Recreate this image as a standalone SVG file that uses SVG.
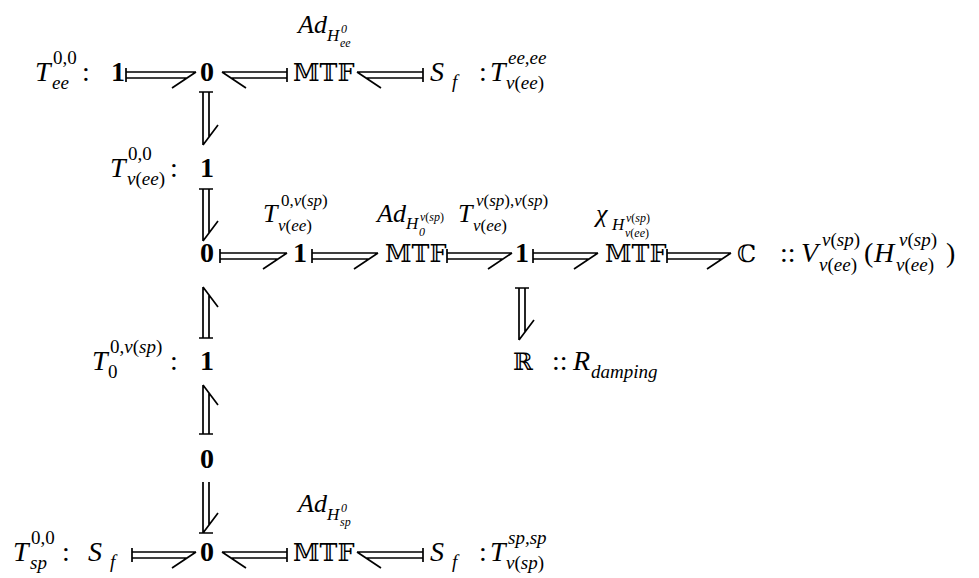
<svg xmlns="http://www.w3.org/2000/svg" width="979" height="578" viewBox="0 0 979 578">
<style>
text{font-family:'Liberation Serif','Times New Roman','Tinos','DejaVu Serif',serif;fill:#000}
.m{font-size:28px;font-style:italic}
.s{font-size:19px;font-style:italic}
.u{font-style:normal}
.c{font-size:28px;font-style:normal}
.b{font-size:28px;font-weight:bold;text-anchor:middle}
.bb{font-family:'DejaVu Serif','DejaVu Sans',serif;font-size:24px}
.l{font-size:26px;font-style:italic}
.ls{font-size:17px;font-style:italic}
.lss{font-size:12px;font-style:italic}
#arrows path{fill:none;stroke:#000;stroke-width:1.7}
</style>
<rect width="979" height="578" fill="#fff"/>
<g font-family="Liberation Serif, serif">

<!-- top row -->
<g id="lbl-top"><text class="m" x="35" y="81">T</text><text class="s u" x="53" y="64">0,0</text><text class="s" x="52" y="89">ee</text><text class="c" x="82" y="81">:</text></g>
<g id="n-top-1"><text class="b" x="118" y="81">1</text></g>
<g id="n-top-0"><text class="b" x="207" y="81">0</text></g>
<g id="n-top-mtf"><text class="bb" x="293" y="81">𝕄𝕋𝔽</text></g>
<g id="n-top-sf"><text class="m" x="430" y="81">S</text><text class="s" x="452" y="88">f</text></g>
<g id="lbl-top-r"><text class="c" x="479" y="81">:</text><text class="m" x="490" y="81">T</text><text class="s" x="508" y="64">ee,ee</text><text class="s" x="506" y="89">v<tspan class="u">(</tspan>ee<tspan class="u">)</tspan></text></g>
<g id="lbl-ad-top"><text class="l" x="298" y="33">Ad</text><text class="ls" x="327" y="41">H</text><text class="lss u" x="341" y="33">0</text><text class="lss" x="340" y="47">ee</text></g>

<!-- second row -->
<g id="lbl-a"><text class="m" x="110" y="177">T</text><text class="s u" x="128" y="160">0,0</text><text class="s" x="127" y="185">v<tspan class="u">(</tspan>ee<tspan class="u">)</tspan></text><text class="c" x="170" y="177">:</text></g>
<g id="n-a-1"><text class="b" x="207" y="177">1</text></g>

<!-- middle row -->
<g id="n-m-0"><text class="b" x="207" y="262">0</text></g>
<g id="n-m-1a"><text class="b" x="300" y="262">1</text></g>
<g id="n-m-mtf1"><text class="bb" x="385" y="262">𝕄𝕋𝔽</text></g>
<g id="n-m-1b"><text class="b" x="522" y="262">1</text></g>
<g id="n-m-mtf2"><text class="bb" x="605" y="262">𝕄𝕋𝔽</text></g>
<g id="n-m-c"><text class="bb" x="737" y="262">ℂ</text></g>
<g id="lbl-m-r"><text class="c" x="780" y="262">::</text><text class="m" x="801" y="262">V</text><text class="s" x="822" y="246">v<tspan class="u">(</tspan>sp<tspan class="u">)</tspan></text><text class="s" x="819" y="271">v<tspan class="u">(</tspan>ee<tspan class="u">)</tspan></text><text class="c" x="864" y="262">(</text><text class="m" x="874" y="262">H</text><text class="s" x="899" y="246">v<tspan class="u">(</tspan>sp<tspan class="u">)</tspan></text><text class="s" x="896" y="271">v<tspan class="u">(</tspan>ee<tspan class="u">)</tspan></text><text class="c" x="946" y="262">)</text></g>
<g id="lbl-m-1"><text class="l" x="263" y="222">T</text><text class="ls" x="281" y="206"><tspan class="u">0,</tspan>v<tspan class="u">(</tspan>sp<tspan class="u">)</tspan></text><text class="ls" x="278" y="231">v<tspan class="u">(</tspan>ee<tspan class="u">)</tspan></text></g>
<g id="lbl-m-2"><text class="l" x="377" y="222">Ad</text><text class="ls" x="406" y="229">H</text><text class="lss" x="420" y="221">v<tspan class="u">(</tspan>sp<tspan class="u">)</tspan></text><text class="lss u" x="419" y="236">0</text></g>
<g id="lbl-m-3"><text class="l" x="458" y="222">T</text><text class="ls" x="476" y="206">v<tspan class="u">(</tspan>sp<tspan class="u">),</tspan>v<tspan class="u">(</tspan>sp<tspan class="u">)</tspan></text><text class="ls" x="473" y="231">v<tspan class="u">(</tspan>ee<tspan class="u">)</tspan></text></g>
<g id="lbl-m-4"><text class="l" x="596" y="222">χ</text><text class="ls" x="612" y="230">H</text><text class="lss" x="626" y="222">v<tspan class="u">(</tspan>sp<tspan class="u">)</tspan></text><text class="lss" x="625" y="237">v<tspan class="u">(</tspan>ee<tspan class="u">)</tspan></text></g>

<!-- fourth row -->
<g id="lbl-b"><text class="m" x="92" y="370">T</text><text class="s" x="110" y="353"><tspan class="u">0,</tspan>v<tspan class="u">(</tspan>sp<tspan class="u">)</tspan></text><text class="s u" x="108" y="378">0</text><text class="c" x="170" y="370">:</text></g>
<g id="n-b-1"><text class="b" x="207" y="370">1</text></g>
<g id="n-b-r"><text class="bb" x="513" y="370">ℝ</text></g>
<g id="lbl-b-r"><text class="c" x="552" y="370">::</text><text class="m" x="573" y="370">R</text><text class="s" x="591" y="378">damping</text></g>

<!-- fifth row -->
<g id="n-c-0"><text class="b" x="207" y="468">0</text></g>

<!-- bottom row -->
<g id="lbl-bot"><text class="m" x="13" y="561">T</text><text class="s u" x="31" y="544">0,0</text><text class="s" x="30" y="569">sp</text><text class="c" x="62" y="561">:</text></g>
<g id="n-bot-sf1"><text class="m" x="88" y="561">S</text><text class="s" x="110" y="568">f</text></g>
<g id="n-bot-0"><text class="b" x="207" y="561">0</text></g>
<g id="n-bot-mtf"><text class="bb" x="293" y="561">𝕄𝕋𝔽</text></g>
<g id="n-bot-sf2"><text class="m" x="430" y="561">S</text><text class="s" x="452" y="568">f</text></g>
<g id="lbl-bot-r"><text class="c" x="479" y="561">:</text><text class="m" x="490" y="561">T</text><text class="s" x="508" y="544">sp,sp</text><text class="s" x="506" y="569">v<tspan class="u">(</tspan>sp<tspan class="u">)</tspan></text></g>
<g id="lbl-ad-bot"><text class="l" x="298" y="512">Ad</text><text class="ls" x="327" y="520">H</text><text class="lss u" x="341" y="512">0</text><text class="lss" x="340" y="526">sp</text></g>
</g>

<!-- double-line maps-to connectors -->
<g id="arrows">
<path d="M126 68V82M126 72H196M126 78H187M196 72L172 88"/>
<path d="M287 68V82M222 72H287M231 78H287M222 72L246 88"/>
<path d="M423 68V82M357 72H423M366 78H423M357 72L381 88"/>
<path d="M199 92H213M203 92V145M209 92V137M203 145L218 125"/>
<path d="M199 189H213M203 189V241M209 189V233M203 241L218 221"/>
<path d="M220 249V263M220 253H287M220 259H278M287 253L263 269"/>
<path d="M312 249V263M312 253H378M312 259H369M378 253L354 269"/>
<path d="M447 249V263M447 253H512M447 259H503M512 253L488 269"/>
<path d="M533 249V263M533 253H598M533 259H589M598 253L574 269"/>
<path d="M667 249V263M667 253H731M667 259H722M731 253L707 269"/>
<path d="M515 288H529M519 288V340M525 288V332M519 340L534 320"/>
<path d="M199 338H213M203 338V287M209 338V295M203 287L218 307"/>
<path d="M199 434H213M203 434V385M209 434V393M203 385L218 405"/>
<path d="M203 482V533M209 482V525M199 533H213M203 533L218 513"/>
<path d="M132 548V562M132 552H196M132 558H187M196 552L172 568"/>
<path d="M287 548V562M222 552H287M231 558H287M222 552L246 568"/>
<path d="M423 548V562M357 552H423M366 558H423M357 552L381 568"/>
</g>
</svg>
